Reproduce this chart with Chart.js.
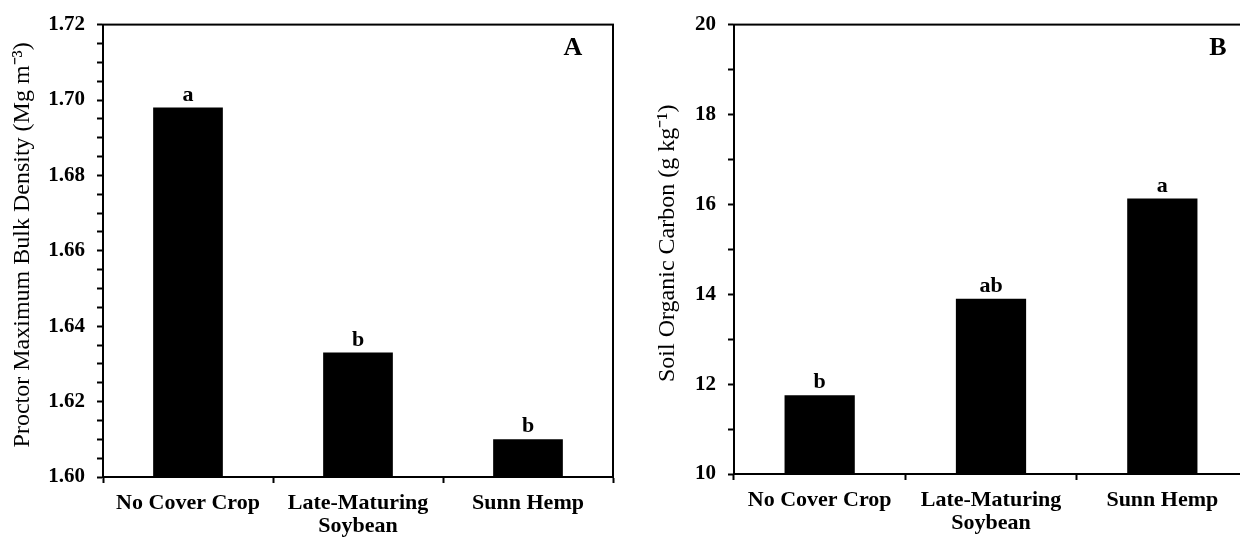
<!DOCTYPE html>
<html><head><meta charset="utf-8">
<script src="https://cdn.jsdelivr.net/npm/chart.js@4.4.0/dist/chart.umd.min.js"></script>
<style>
html,body{margin:0;padding:0;background:#fff;overflow:hidden;width:1240px;height:542px;}
#wrapA{position:absolute;left:0;top:0;width:620px;height:542px;}
#wrapB{position:absolute;left:620px;top:0;width:640px;height:542px;}
</style></head><body>
<div id="wrapA"><canvas id="cA"></canvas></div>
<div id="wrapB"><canvas id="cB"></canvas></div>
<script>
// ---- data ----
const categories = ['No Cover Crop', ['Late-Maturing', 'Soybean'], 'Sunn Hemp'];
const bulkDensity = [1.698, 1.633, 1.610];
const bulkLetters = ['a', 'b', 'b'];
const soilCarbon = [11.75, 13.90, 16.13];
const carbonLetters = ['b', 'ab', 'a'];
const bulkAxis = { min: 1.60, max: 1.72, major: 0.02, minor: 0.005, decimals: 2 };
const carbonAxis = { min: 10, max: 20, major: 2, minor: 1, decimals: 0 };
const bulkTitle = 'Proctor Maximum Bulk Density (Mg m\u207B\u00B3)';
const carbonTitle = 'Soil Organic Carbon (g kg\u207B\u00B9)';

const FONT = '"Liberation Serif", "Times New Roman", serif';

const framePlugin = {
  id: 'frame',
  afterDatasetsDraw(chart, args, opts) {
    const { ctx, chartArea: a } = chart;
    ctx.save();
    ctx.strokeStyle = '#000';
    ctx.lineWidth = 2;
    ctx.strokeRect(a.left, a.top, a.right - a.left, a.bottom - a.top);
    ctx.fillStyle = '#000';
    ctx.textAlign = 'center';
    ctx.textBaseline = 'alphabetic';
    ctx.font = 'bold 22px ' + FONT;
    const meta = chart.getDatasetMeta(0);
    meta.data.forEach((bar, i) => {
      ctx.fillText(opts.letters[i], bar.x, bar.y - 7);
    });
    ctx.font = 'bold 26px ' + FONT;
    ctx.fillText(opts.panel, a.right - opts.panelDx, a.top + opts.panelDy);
    ctx.restore();
  }
};

function yScale(t, title, titlePad, width) {
  return {
    type: 'linear', min: t.min, max: t.max,
    afterFit(s) { s.width = width; },
    ticks: {
      stepSize: t.minor, maxTicksLimit: 200, autoSkip: false, padding: 12, color: '#000',
      font: { family: FONT, size: 21, weight: 'bold' },
      callback(v) {
        const r = (v - t.min) / t.major;
        return Math.abs(r - Math.round(r)) < 1e-6 ? Number(v).toFixed(t.decimals) : '';
      }
    },
    grid: { drawOnChartArea: false, drawTicks: true, tickLength: 6, tickColor: '#000', tickWidth: 2 },
    border: { display: true, color: '#000', width: 2 },
    title: { display: true, text: '\u2002' + title, color: '#000', font: { family: FONT, size: 24 }, padding: { top: titlePad, bottom: 0 } }
  };
}

function xScale(height) {
  return {
    type: 'category', offset: true,
    afterFit(s) { s.height = height; },
    grid: { offset: true, drawOnChartArea: false, drawTicks: true, tickLength: 6, tickColor: '#000', tickWidth: 2 },
    border: { display: true, color: '#000', width: 2 },
    ticks: { color: '#000', padding: 9, maxRotation: 0, autoSkip: false,
      font: { family: FONT, size: 22, weight: 'bold', lineHeight: 1.05 } }
  };
}

function makeChart(id, values, letters, axis, title, titlePad, yWidth, xHeight, pad, panel, panelDx, panelDy) {
  return new Chart(document.getElementById(id), {
    type: 'bar',
    data: {
      labels: categories,
      datasets: [{ data: values, backgroundColor: '#000', borderWidth: 0,
        barPercentage: 0.41, categoryPercentage: 1 }]
    },
    options: {
      responsive: true, maintainAspectRatio: false, animation: false,
      layout: { padding: pad },
      plugins: { legend: { display: false }, tooltip: { enabled: false },
        frame: { letters, panel, panelDx, panelDy } },
      scales: { x: xScale(xHeight), y: yScale(axis, title, titlePad, yWidth) }
    },
    plugins: [framePlugin]
  });
}

makeChart('cA', bulkDensity, bulkLetters, bulkAxis, bulkTitle, 8, 103, 65,
  { top: 24, right: 7, left: 0, bottom: 0 }, 'A', 40, 30);
makeChart('cB', soilCarbon, carbonLetters, carbonAxis, carbonTitle, 33, 114, 68,
  { top: 23, right: 12, left: 0, bottom: 0 }, 'B', 30, 30);
</script>
</body></html>
